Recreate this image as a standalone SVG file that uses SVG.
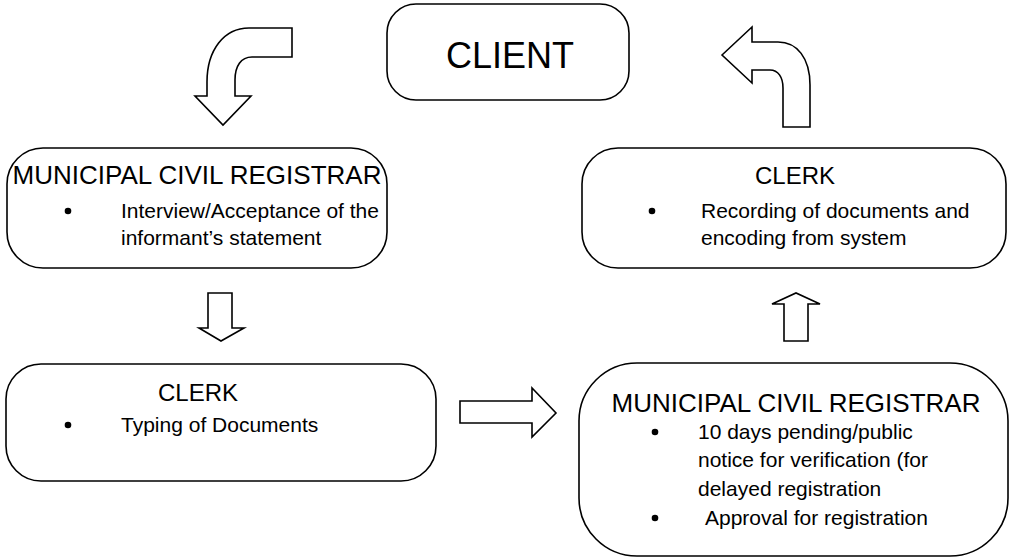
<svg xmlns="http://www.w3.org/2000/svg" width="1012" height="558" viewBox="0 0 1012 558">
<style>
.box{fill:#fff;stroke:#000;stroke-width:1.6}
.arr{fill:#fff;stroke:#000;stroke-width:1.6;stroke-linejoin:miter}
text{font-family:"Liberation Sans",Arial,sans-serif;fill:#000}
.h{font-size:26px;text-anchor:middle}
.c{font-size:24px;text-anchor:middle}
.b{font-size:21px}
.dot{fill:#000}
</style>
<rect width="1012" height="558" fill="#fff"/>
<g id="connectors">
<path class="arr" d="M292 28 L249 28 C224 28 207 50 207 82 L207 96 L195 96 L223 125 L251 96 L235 96 L235 80 C235 66 241 57 252 57 L292 57 Z"/>
<path class="arr" d="M722 55 L752 27 L752 42 L778 42 C797 42 810 58 810 85 L810 127 L783 127 L783 88 C783 77 778 70 770 70 L752 70 L752 83 Z"/>
<path class="arr" d="M208 293 L232 293 L232 328 L244 328 L221 341 L199 328 L208 328 Z"/>
<path class="arr" d="M460 401 L532 401 L532 388 L556 413 L532 437 L532 423 L460 423 Z"/>
<path class="arr" d="M784 341 L808 341 L808 304 L820 304 L796 293 L772 304 L784 304 Z"/>
</g>
<g id="client">
<rect class="box" x="387" y="4" width="242" height="96" rx="29" ry="29"/>
<text x="510" y="68" style="font-size:36px;text-anchor:middle">CLIENT</text>
</g>
<g id="mcr1">
<rect class="box" x="7" y="148" width="380" height="120" rx="36" ry="36"/>
<text class="h" x="197" y="184">MUNICIPAL CIVIL REGISTRAR</text>
<circle class="dot" cx="68" cy="211" r="3.3"/>
<text class="b" x="121" y="218">Interview/Acceptance of the</text>
<text class="b" x="121" y="245">informant’s statement</text>
</g>
<g id="clerk1">
<rect class="box" x="582" y="148" width="424" height="120" rx="36" ry="36"/>
<text class="c" x="795" y="184">CLERK</text>
<circle class="dot" cx="652" cy="211" r="3.3"/>
<text class="b" x="701" y="218">Recording of documents and</text>
<text class="b" x="701" y="245">encoding from system</text>
</g>
<g id="clerk2">
<rect class="box" x="6" y="364" width="430" height="117" rx="35" ry="35"/>
<text class="c" x="198" y="401">CLERK</text>
<circle class="dot" cx="68" cy="425" r="3.3"/>
<text class="b" x="121" y="432">Typing of Documents</text>
</g>
<g id="mcr2">
<rect class="box" x="579" y="363" width="429" height="193" rx="58" ry="58"/>
<text class="h" x="796" y="412">MUNICIPAL CIVIL REGISTRAR</text>
<circle class="dot" cx="655" cy="432" r="3.3"/>
<text class="b" x="698" y="439">10 days pending/public</text>
<text class="b" x="698" y="467">notice for verification (for</text>
<text class="b" x="698" y="496">delayed registration</text>
<circle class="dot" cx="655" cy="518" r="3.3"/>
<text class="b" x="705" y="525">Approval for registration</text>
</g>
</svg>
